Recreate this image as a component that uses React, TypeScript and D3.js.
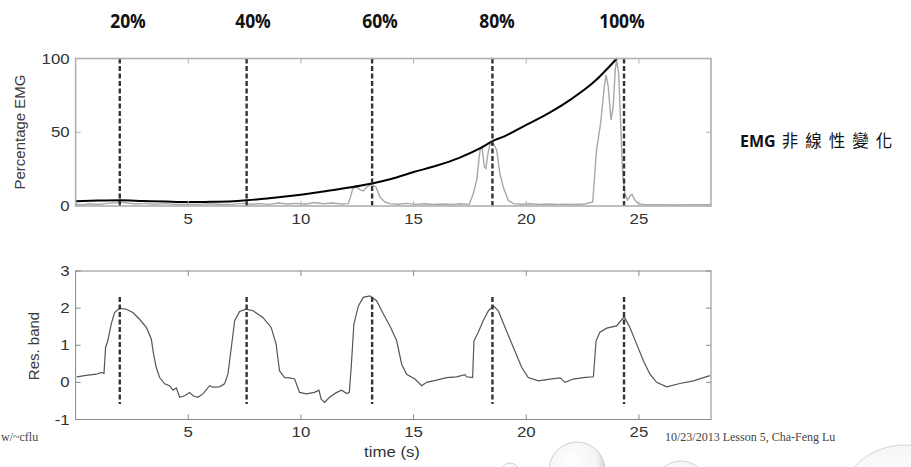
import React from "react";
import * as d3 from "d3";

// ---------- DATA ----------
const xTicks = [5, 10, 15, 20, 25];
const topYTicks = [0, 50, 100];
const botYTicks = [-1, 0, 1, 2, 3];
const markerTimes = [1.96, 7.59, 13.16, 18.5, 24.34];
const percentLabels = ["20%", "40%", "60%", "80%", "100%"];
const percentLabelX = [128, 253, 380, 497, 622];

// EMG trace (time s, % EMG)
const emgTrace: [number, number][] = [
  [0, 1.2], [0.3, 0.9], [0.6, 1.5], [1.0, 1.0], [1.4, 1.8], [1.8, 2.2], [2.0, 2.6], [2.3, 2.0],
  [2.7, 1.4], [3.1, 1.8], [3.5, 1.2], [4.0, 1.6], [4.5, 1.0], [5.0, 1.3], [5.5, 1.1], [6.0, 1.5],
  [6.5, 1.0], [7.0, 1.3], [7.4, 1.8], [7.8, 1.2], [8.2, 1.6], [8.6, 1.1], [9.0, 2.0], [9.4, 1.4],
  [9.8, 1.8], [10.2, 1.2], [10.6, 2.4], [11.0, 1.5], [11.4, 2.0], [11.8, 1.4], [12.1, 1.6],
  [12.2, 6], [12.3, 11.8], [12.47, 12.9], [12.62, 11.1], [12.77, 10.2], [12.92, 12.9],
  [13.14, 14.7], [13.33, 12.9], [13.51, 6.1], [13.73, 2.7], [13.95, 1.6], [14.3, 1.2],
  [14.7, 1.8], [15.1, 1.1], [15.5, 1.5], [15.9, 1.0], [16.3, 1.4], [16.7, 1.1], [17.1, 1.5],
  [17.47, 1.1], [17.65, 8.4], [17.8, 17.5], [17.95, 37.9], [18.04, 40.1], [18.14, 26.5],
  [18.21, 25.4], [18.29, 34.5], [18.39, 41.9], [18.54, 42.4], [18.69, 37.9], [18.83, 22],
  [18.98, 12.9], [19.2, 3.9], [19.43, 1.6], [19.8, 1.2], [20.2, 1.5], [20.6, 1.0], [21.0, 1.4],
  [21.4, 1.1], [21.8, 1.3], [22.2, 1.0], [22.6, 1.4], [22.95, 2.7], [23.12, 37.9], [23.3, 56],
  [23.45, 78.7], [23.54, 88.9], [23.64, 81], [23.76, 58.3], [23.86, 67.3], [23.95, 92.3],
  [24.01, 99], [24.1, 90], [24.19, 56], [24.28, 22], [24.38, 8.4], [24.5, 3.9], [24.6, 6.6],
  [24.69, 7.9], [24.83, 3.9], [24.97, 1.6], [25.3, 0.8], [25.8, 0.9], [26.5, 0.7], [27.2, 0.9],
  [28.2, 0.8],
];

// Non-linear fit curve
const emgCurve: [number, number][] = [
  [0, 3.3], [1, 3.7], [2, 3.9], [3, 3.4], [4, 3.0], [5, 2.7], [6, 2.8], [7, 3.2], [7.6, 3.9],
  [8.5, 5.1], [9.3, 6.4], [10, 7.7], [11, 9.9], [12, 12.2], [13.16, 15.3], [14, 18.3], [15, 23],
  [16, 27.3], [17, 32.5], [18, 39.5], [18.5, 44], [19, 47], [20, 55], [21, 63], [22, 72.5],
  [23, 84], [24.02, 100],
];

// Respiration band trace
const resTrace: [number, number][] = [
  [0.05, 0.15], [0.47, 0.19], [0.92, 0.22], [1.14, 0.27], [1.26, 0.24], [1.33, 0.94], [1.43, 1.12],
  [1.58, 1.57], [1.73, 1.88], [1.95, 2.0], [2.25, 1.97], [2.54, 1.88], [2.84, 1.7], [3.14, 1.48],
  [3.36, 1.17], [3.46, 0.76], [3.58, 0.4], [3.73, 0.13], [3.95, -0.04], [4.17, -0.09],
  [4.32, -0.21], [4.47, -0.15], [4.62, -0.4], [4.84, -0.36], [5.06, -0.27], [5.21, -0.36],
  [5.43, -0.4], [5.65, -0.31], [5.95, -0.09], [6.09, -0.13], [6.39, -0.12], [6.61, -0.04],
  [6.76, 0.22], [6.91, 0.94], [7.06, 1.66], [7.28, 1.91], [7.57, 1.97], [7.87, 1.93], [8.31, 1.75],
  [8.68, 1.48], [8.9, 1.03], [9.05, 0.31], [9.28, 0.13], [9.5, 0.12], [9.72, 0.09], [9.94, -0.27],
  [10.24, -0.31], [10.6, -0.27], [10.8, -0.21], [10.9, -0.45], [11.05, -0.54], [11.27, -0.4],
  [11.59, -0.27], [11.81, -0.21], [12.03, -0.3], [12.15, -0.27], [12.25, 0.58], [12.35, 1.57],
  [12.55, 2.06], [12.77, 2.29], [13.06, 2.33], [13.36, 2.2], [13.66, 1.84], [13.95, 1.52],
  [14.25, 1.12], [14.47, 0.49], [14.69, 0.22], [15.06, 0.09], [15.36, -0.09], [15.58, 0],
  [16.02, 0.06], [16.47, 0.13], [16.91, 0.15], [17.28, 0.21], [17.35, 0.15], [17.62, 0.13],
  [17.68, 1.12], [17.87, 1.35], [18.09, 1.66], [18.32, 1.93], [18.54, 2.06], [18.76, 1.93],
  [19.06, 1.48], [19.43, 0.94], [19.8, 0.4], [20.09, 0.13], [20.54, 0.04], [21.05, 0.09],
  [21.5, 0.12], [21.72, 0], [22.09, 0.09], [22.53, 0.13], [22.98, 0.15], [23.1, 1.12],
  [23.27, 1.35], [23.57, 1.46], [24.01, 1.52], [24.35, 1.77], [24.6, 1.48], [24.9, 1.03],
  [25.2, 0.58], [25.49, 0.22], [25.79, 0], [26.23, -0.12], [26.82, -0.03], [27.42, 0.04],
  [28.15, 0.18],
];

// ---------- LAYOUT ----------
const W = 911;
const H = 467;
const axisFont = "'Liberation Sans', Arial, sans-serif";
const serifFont = "'Liberation Serif', 'Times New Roman', serif";

export default function App() {
  const x = d3.scaleLinear().domain([0, 28.2]).range([75.6, 711]);
  const yTop = d3.scaleLinear().domain([0, 100]).range([206, 58.5]);
  const yBot = d3.scaleLinear().domain([-1, 3]).range([419.5, 271]);

  const lineTop = d3.line<[number, number]>().x((d) => x(d[0])).y((d) => yTop(d[1]));
  const curveTop = d3
    .line<[number, number]>()
    .x((d) => x(d[0]))
    .y((d) => yTop(d[1]))
    .curve(d3.curveMonotoneX);
  const lineBot = d3.line<[number, number]>().x((d) => x(d[0])).y((d) => yBot(d[1]));

  const [x0, x1] = x.range();
  const tickLen = 5;

  const stretch = (cx: number, cy: number, sx = 1.12) =>
    `translate(${cx},${cy}) scale(${sx},1)`;

  const panelAxes = (
    y: d3.ScaleLinear<number, number>,
    yTicks: number[],
    frameColor: string,
    frameWidth: number,
    labelY: number
  ) => {
    const [yb, yt] = y.range();
    return (
      <g>
        <rect x={x0} y={yt} width={x1 - x0} height={yb - yt} fill="none" stroke={frameColor} strokeWidth={frameWidth} />
        {xTicks.map((t) => (
          <g key={"xt" + t}>
            <line x1={x(t)} x2={x(t)} y1={yb} y2={yb - tickLen} stroke={frameColor} strokeWidth={1} />
            <line x1={x(t)} x2={x(t)} y1={yt} y2={yt + tickLen} stroke={frameColor} strokeWidth={1} />
            <text
              transform={stretch(x(t), labelY)}
              textAnchor="middle"
              fontFamily={axisFont}
              fontSize={15}
              fill="#333"
            >
              {t}
            </text>
          </g>
        ))}
        {yTicks.map((v) => (
          <g key={"yt" + v}>
            <line x1={x0} x2={x0 + tickLen} y1={y(v)} y2={y(v)} stroke={frameColor} strokeWidth={1} />
            <line x1={x1} x2={x1 - tickLen} y1={y(v)} y2={y(v)} stroke={frameColor} strokeWidth={1} />
            <text
              transform={stretch(x0 - 6, y(v) + 5)}
              textAnchor="end"
              fontFamily={axisFont}
              fontSize={15}
              fill="#333"
            >
              {v}
            </text>
          </g>
        ))}
      </g>
    );
  };

  return (
    <svg
      width={W}
      height={H}
      viewBox={`0 0 ${W} ${H}`}
      style={{ position: "absolute", left: 0, top: 0, background: "#fff" }}
    >
      <defs>
        <radialGradient id="bubble" cx="40%" cy="35%" r="65%">
          <stop offset="0%" stopColor="#ffffff" />
          <stop offset="70%" stopColor="#f4f4f4" />
          <stop offset="100%" stopColor="#c8c8c8" />
        </radialGradient>
      </defs>
      <rect x={0} y={0} width={W} height={H} fill="#fff" />

      {/* decorative bubbles */}
      <circle cx={510} cy={472} r={9} fill="url(#bubble)" stroke="#d0d0d0" strokeWidth={1} />
      <circle cx={577} cy={470} r={28} fill="url(#bubble)" stroke="#cfcfcf" strokeWidth={1} />
      <circle cx={681} cy={488} r={27} fill="url(#bubble)" stroke="#d4d4d4" strokeWidth={1} />
      <circle cx={905} cy={515} r={70} fill="url(#bubble)" stroke="#d4d4d4" strokeWidth={1} />

      {/* percentage labels */}
      {percentLabels.map((p, i) => (
        <text
          key={p}
          transform={`translate(${percentLabelX[i]},28) scale(0.92,1)`}
          textAnchor="middle"
          fontFamily="'Open Sans', sans-serif"
          fontWeight={700}
          fontSize={19}
          fill="#111"
        >
          {p}
        </text>
      ))}

      {/* EMG annotation */}
      <text x={740} y={147} fontFamily="'Open Sans', sans-serif" fontSize={16} fill="#111">
        <tspan fontWeight={700}>EMG</tspan>
        <tspan fontFamily="'Noto Sans CJK TC', sans-serif" fontSize={16.5} letterSpacing={7} dx={6}>
          非線性變化
        </tspan>
      </text>

      {/* top panel */}
      <path d={lineTop(emgTrace) || ""} fill="none" stroke="#a8a8a8" strokeWidth={1.4} />
      <path d={curveTop(emgCurve) || ""} fill="none" stroke="#000" strokeWidth={2} />
      {markerTimes.map((t) => (
        <line
          key={"mt" + t}
          x1={x(t)}
          x2={x(t)}
          y1={yTop(100)}
          y2={yTop(0)}
          stroke="#333"
          strokeWidth={2.4}
          strokeDasharray="5,2.5"
        />
      ))}
      {panelAxes(yTop, topYTicks, "#b0b0b0", 1.6, 224)}
      <text
        transform="translate(25,132) rotate(-90)"
        textAnchor="middle"
        fontFamily={axisFont}
        fontSize={15}
        fill="#3a3a3a"
      >
        Percentage EMG
      </text>

      {/* bottom panel */}
      <path d={lineBot(resTrace) || ""} fill="none" stroke="#555" strokeWidth={1.2} />
      {markerTimes.map((t) => (
        <line
          key={"mb" + t}
          x1={x(t)}
          x2={x(t)}
          y1={yBot(2.3)}
          y2={yBot(-0.58)}
          stroke="#333"
          strokeWidth={2.4}
          strokeDasharray="5,2.5"
        />
      ))}
      {panelAxes(yBot, botYTicks, "#888", 1, 437)}
      <text
        transform="translate(39,346) rotate(-90)"
        textAnchor="middle"
        fontFamily={axisFont}
        fontSize={15}
        fill="#3a3a3a"
      >
        Res. band
      </text>
      <text
        transform={stretch(392, 457, 1.12)}
        textAnchor="middle"
        fontFamily={axisFont}
        fontSize={15}
        fill="#333"
      >
        time (s)
      </text>

      {/* footer */}
      <text x={1} y={441} fontFamily={serifFont} fontSize={12} fill="#444">
        w/~cflu
      </text>
      <text x={665} y={441} fontFamily={serifFont} fontSize={12} fill="#444">
        10/23/2013 Lesson 5, Cha-Feng Lu
      </text>
    </svg>
  );
}
